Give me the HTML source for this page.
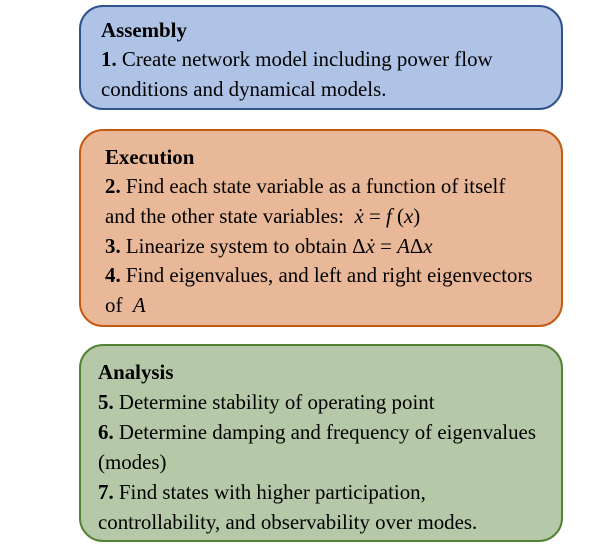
<!DOCTYPE html>
<html><head><style>
body{margin:0;width:611px;height:547px;background:#fff;position:relative;font-family:"Liberation Serif",serif;font-size:20.9px;color:#000;overflow:hidden}
.b{position:absolute;left:79px;width:480px;border-radius:24px;border:2px solid}
.l{position:absolute;white-space:nowrap;line-height:22px}
i{font-style:italic}
</style></head><body>
<div class="b" style="top:5px;height:101px;background:#aec3e6;border-color:#2f528f"></div>
<div class="b" style="top:129px;height:194px;background:#e8b898;border-color:#c55a11"></div>
<div class="b" style="top:344px;height:194px;background:#b5c8a8;border-color:#548235"></div>

<div class="l" style="left:101px;top:19px"><b>Assembly</b></div>
<div class="l" style="left:101px;top:48px"><b>1.</b> Create network model including power flow</div>
<div class="l" style="left:101px;top:78px">conditions and dynamical models.</div>

<div class="l" style="left:105px;top:146px"><b>Execution</b></div>
<div class="l" style="left:105px;top:175px"><b>2.</b> Find each state variable as a function of itself</div>
<div class="l" style="left:105px;top:205px">and the other state variables: &nbsp;<i>ẋ</i> = <i>f</i> (<i>x</i>)</div>
<div class="l" style="left:105px;top:235px"><b>3.</b> Linearize system to obtain Δ<i>ẋ</i> = <i>A</i>Δ<i>x</i></div>
<div class="l" style="left:105px;top:264px"><b>4.</b> Find eigenvalues, and left and right eigenvectors</div>
<div class="l" style="left:105px;top:294px">of &nbsp;<i>A</i></div>

<div class="l" style="left:98px;top:361px"><b>Analysis</b></div>
<div class="l" style="left:98px;top:391px"><b>5.</b> Determine stability of operating point</div>
<div class="l" style="left:98px;top:421px"><b>6.</b> Determine damping and frequency of eigenvalues</div>
<div class="l" style="left:98px;top:451px">(modes)</div>
<div class="l" style="left:98px;top:481px"><b>7.</b> Find states with higher participation,</div>
<div class="l" style="left:98px;top:511px">controllability, and observability over modes.</div>
</body></html>
